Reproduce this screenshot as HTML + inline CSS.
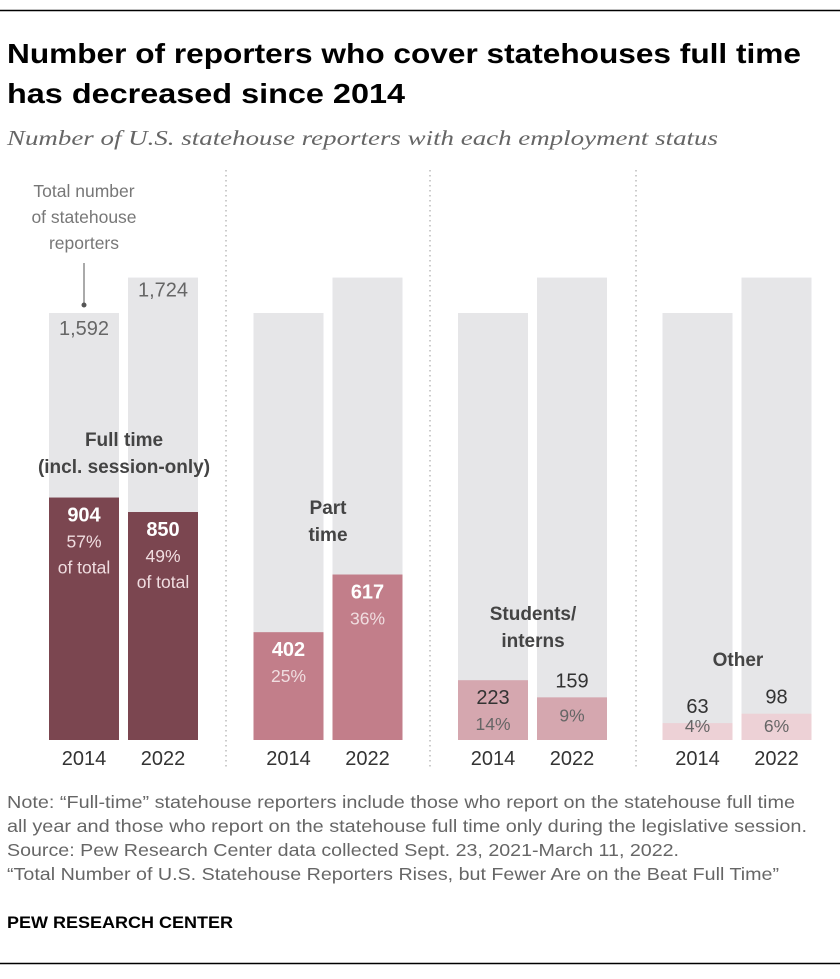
<!DOCTYPE html>
<html><head><meta charset="utf-8"><style>
body{margin:0;background:#fff;width:840px;height:974px;overflow:hidden;font-family:"Liberation Sans",sans-serif}
</style></head><body>
<svg width="840" height="974" viewBox="0 0 840 974" xmlns="http://www.w3.org/2000/svg" font-family="Liberation Sans, sans-serif">
<line x1="0" y1="10.5" x2="840" y2="10.5" stroke="#000" stroke-width="1.5"/>
<text x="7" y="63" font-size="28" font-weight="bold" fill="#000" textLength="794" lengthAdjust="spacingAndGlyphs">Number of reporters who cover statehouses full time</text>
<text x="7" y="103" font-size="28" font-weight="bold" fill="#000" textLength="398" lengthAdjust="spacingAndGlyphs">has decreased since 2014</text>
<text x="7" y="145" font-size="21" font-style="italic" font-family="Liberation Serif, serif" fill="#666" textLength="711" lengthAdjust="spacingAndGlyphs">Number of U.S. statehouse reporters with each employment status</text>
<g id="dividers"></g>
<g id="bars"></g>
<g id="labels"></g>
<g fill="#777" font-size="17.5" text-anchor="middle">
<text x="84" y="197">Total number</text><text x="84" y="223">of statehouse</text><text x="84" y="249">reporters</text>
</g>
<line x1="84" y1="263" x2="84" y2="305" stroke="#555" stroke-width="1"/>
<circle cx="84" cy="305" r="2.5" fill="#555"/>
<g fill="#444" font-size="19" font-weight="bold" text-anchor="middle">
<text x="124" y="446">Full time</text><text x="124" y="473">(incl. session-only)</text>
<text x="328" y="514">Part</text><text x="328" y="541">time</text>
<text x="533" y="620">Students/</text><text x="533" y="647">interns</text>
<text x="738" y="666">Other</text>
</g>
<g fill="#666" font-size="17.5">
<text x="7" y="808" textLength="788" lengthAdjust="spacingAndGlyphs">Note: “Full-time” statehouse reporters include those who report on the statehouse full time</text>
<text x="7" y="832" textLength="800" lengthAdjust="spacingAndGlyphs">all year and those who report on the statehouse full time only during the legislative session.</text>
<text x="7" y="856" textLength="672" lengthAdjust="spacingAndGlyphs">Source: Pew Research Center data collected Sept. 23, 2021-March 11, 2022.</text>
<text x="7" y="880" textLength="772" lengthAdjust="spacingAndGlyphs">“Total Number of U.S. Statehouse Reporters Rises, but Fewer Are on the Beat Full Time”</text>
</g>
<text x="7" y="928" font-size="17" font-weight="bold" fill="#000" textLength="226" lengthAdjust="spacingAndGlyphs">PEW RESEARCH CENTER</text>
<line x1="0" y1="963.5" x2="840" y2="963.5" stroke="#000" stroke-width="1.5"/>
</svg>
<script>
const categories=["full-time","part-time","students","other"];
const years=["2014","2022"];
const totals=[1592,1724];
const values=[[904,850],[402,617],[223,159],[63,98]];
const pcts=[["57%","49%"],["25%","36%"],["14%","9%"],["4%","6%"]];
const colors=["#7b4650","#c27e8a","#d5a7af","#edd1d6"];
const NS="http://www.w3.org/2000/svg";
const base=740, scale=427/1592;
const y=v=>base-v*scale;
const x=(g,i)=>49+g*204.5+i*79;
const bw=70;
function mk(tag,attrs,parent){const e=document.createElementNS(NS,tag);for(const k in attrs)e.setAttribute(k,attrs[k]);parent.appendChild(e);return e;}
const bars=document.getElementById('bars'),labels=document.getElementById('labels'),div=document.getElementById('dividers');
[226,430,636].forEach(dx=>{const l=mk('line',{x1:dx,y1:170,x2:dx,y2:770,stroke:'#999','stroke-dasharray':'1.5,3.5'},div);

});
categories.forEach((c,g)=>{years.forEach((yr,i)=>{
 const bx=x(g,i);
 const t=mk('rect',{x:bx,y:y(totals[i]),width:bw,height:base-y(totals[i]),fill:'#e6e6e8'},bars);
 
 
 const v=values[g][i];
 const r=mk('rect',{x:bx,y:y(v),width:bw,height:base-y(v),fill:colors[g]},bars);
 
 
 const cx=bx+bw/2, top=y(v), h=base-top;
 const inside=h>50;
 const dark=g<2;
 let vy,py;
 if(inside){vy=top+24;py=top+50;}else{vy=top-10;py=Math.min(base-7,top+24);if(h<30)py=base-8;}
 const vt=mk('text',{x:cx,y:vy,'text-anchor':'middle','font-size':20,fill:(inside&&dark)?'#fff':'#333','font-weight':(inside&&dark)?'bold':'normal'},labels);
 vt.textContent=v;
 
 
 const pt=mk('text',{x:cx,y:py,'text-anchor':'middle','font-size':17.5,fill:dark?'#f0dde0':'#666'},labels);
 pt.textContent=pcts[g][i];
 
 
 if(g===0){const o=mk('text',{x:cx,y:py+26,'text-anchor':'middle','font-size':17.5,fill:'#f0dde0'},labels);o.textContent='of total';
 
 
 const tl=mk('text',{x:cx,y:y(totals[i])+ (i===0?22:19),'text-anchor':'middle','font-size':20,fill:'#666'},labels);
 tl.textContent=totals[i].toLocaleString('en-US');
 
 }
 const yl=mk('text',{x:cx,y:765,'text-anchor':'middle','font-size':20,fill:'#333'},labels);yl.textContent=yr;
 
 
});});
</script>
</body></html>
